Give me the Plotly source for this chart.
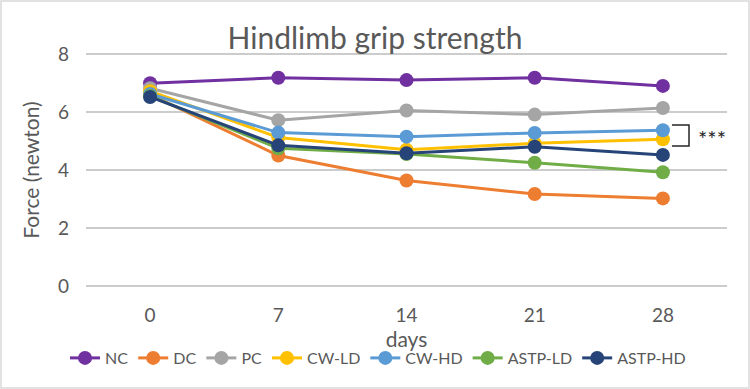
import plotly.graph_objects as go

days = ["0", "7", "14", "21", "28"]
series_names = ["NC", "DC", "PC", "CW-LD", "CW-HD", "ASTP-LD", "ASTP-HD"]
nc = [6.99, 7.18, 7.10, 7.18, 6.90]
dc = [6.60, 4.50, 3.64, 3.17, 3.02]
pc = [6.82, 5.72, 6.05, 5.91, 6.14]
cw_ld = [6.72, 5.12, 4.70, 4.92, 5.06]
cw_hd = [6.62, 5.29, 5.15, 5.28, 5.37]
astp_ld = [6.55, 4.75, 4.55, 4.25, 3.92]
astp_hd = [6.52, 4.85, 4.58, 4.80, 4.52]
series_values = [nc, dc, pc, cw_ld, cw_hd, astp_ld, astp_hd]
colors = ["#7030A0", "#ED7D31", "#A5A5A5", "#FFC000", "#5B9BD5", "#70AD47", "#264478"]
y_ticks = [0, 2, 4, 6, 8]
bracket_top, bracket_bottom, stars_y = 5.55, 4.83, 5.17

FONT = "Lato, 'Open Sans', sans-serif"
GREY = "#595959"

fig = go.Figure()
for name, vals, col in zip(series_names, series_values, colors):
    fig.add_trace(go.Scatter(
        x=days, y=vals, name=name, mode="lines+markers",
        line=dict(color=col, width=3),
        marker=dict(color=col, size=14),
    ))

L, R, T, B = 86, 23, 52, 101
W, H = 750, 389
pw, ph = W - L - R, H - T - B

def px_x(p):
    return (p - L) / pw

def px_y(p):
    return (H - B - p) / ph

pad = 0.07  # small padding so the 0 and 8 gridlines are drawn

fig.update_layout(
    width=W, height=H,
    margin=dict(l=L, r=R, t=T, b=B, autoexpand=False),
    paper_bgcolor="white", plot_bgcolor="white",
    font=dict(family=FONT, color=GREY),
    title=dict(text="Hindlimb grip strength", x=0.5, xanchor="center",
               y=1 - 38 / H, yanchor="middle",
               font=dict(size=30, color=GREY, family=FONT)),
    xaxis=dict(type="category", range=[-0.5, 4.5], showgrid=False, zeroline=False,
               showline=False, ticks="", tickfont=dict(size=19, color=GREY),
               ticklabelstandoff=14,
               title=dict(text="days", font=dict(size=21, color=GREY), standoff=7)),
    yaxis=dict(range=[-pad, 8 + pad], tickmode="array", tickvals=y_ticks,
               showgrid=True, gridcolor="#CCCCCC", gridwidth=1.5,
               zeroline=False, showline=False, ticks="",
               tickfont=dict(size=19, color=GREY), ticklabelstandoff=16,
               title=dict(text="Force (newton)", font=dict(size=21, color=GREY), standoff=12)),
    legend=dict(orientation="h", x=px_x(378), xanchor="center", y=px_y(358), yanchor="middle",
                font=dict(size=16, color=GREY), itemwidth=30, tracegroupgap=0,
                bgcolor="rgba(0,0,0,0)"),
    showlegend=True,
)

# bracket with significance stars
xb0, xb1 = px_x(672), px_x(689)
fig.add_shape(type="path", xref="paper", yref="y",
              path=f"M {xb0},{bracket_top} L {xb1},{bracket_top} L {xb1},{bracket_bottom} L {xb0},{bracket_bottom}",
              line=dict(color="#262626", width=1.5))
fig.add_annotation(text="***", xref="paper", yref="y", x=px_x(712), y=stars_y - 0.1,
                   showarrow=False, font=dict(size=22, color="#262626", family=FONT),
                   xanchor="center", yanchor="middle")

# outer chart border
fig.add_shape(type="rect", xref="paper", yref="paper",
              x0=px_x(1), x1=px_x(749), y0=px_y(388), y1=px_y(1),
              line=dict(color="#D9D9D9", width=1.5))

fig.write_html("out.html")
